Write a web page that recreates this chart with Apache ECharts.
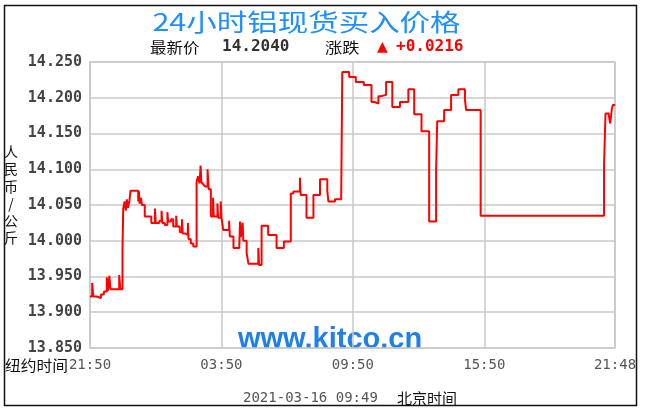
<!DOCTYPE html>
<html>
<head>
<meta charset="utf-8">
<script src="https://cdn.jsdelivr.net/npm/echarts@6/dist/echarts.min.js"></script>
<style>
html,body{margin:0;padding:0;background:#fff;}
#c{width:649px;height:416px;}
</style>
</head>
<body>
<div id="c"></div>
<script>
// Minutes after 21:50 (New York time) at which each price level starts
const minutes = [0,6,9,18,30,38,46,49,53,56,80,83,89,91,95,98,101,104,108,111,132,134,136,140,142,150,168,178,180,190,196,198,205,212,214,222,228,236,238,246,252,254,262,268,270,276,283,292,296,300,303,305,310,315,322,325,331,337,339,349,351,358,360,365,381,383,393,409,411,413,418,420,429,434,461,463,470,488,511,531,550,557,575,577,593,612,630,650,653,671,688,691,710,728,750,771,779,790,796,811,828,849,872,888,908,929,948,951,970,989,1009,1027,1030,1070,1408,1412,1421,1425,1429,1432,1438];
// Aluminium spot bid price (RMB / kg)
const prices = [13.922,13.941,13.922,13.920,13.925,13.929,13.949,13.930,13.951,13.932,13.952,13.932,13.987,14.045,14.055,14.042,14.058,14.046,14.056,14.070,14.055,14.069,14.052,14.060,14.050,14.034,14.025,14.045,14.025,14.028,14.042,14.025,14.022,14.040,14.027,14.030,14.020,14.035,14.020,14.012,14.030,14.010,14.008,14.025,14.002,13.996,13.992,14.083,14.090,14.080,14.105,14.082,14.079,14.076,14.100,14.072,14.034,14.060,14.034,14.052,14.032,14.055,14.033,14.015,14.028,14.006,13.990,13.994,14.027,14.005,14.025,14.000,13.983,13.968,13.990,13.966,14.021,14.008,13.990,13.999,14.066,14.069,14.088,14.064,14.032,14.064,14.086,14.070,14.055,14.058,14.056,14.236,14.229,14.222,14.218,14.194,14.192,14.202,14.204,14.222,14.187,14.194,14.212,14.177,14.153,14.027,14.097,14.167,14.183,14.204,14.212,14.198,14.183,14.035,14.106,14.178,14.175,14.164,14.183,14.190,14.190];
const xTickValues = [0,360,720,1080,1438];
const xTickLabels = ['21:50','03:50','09:50','15:50','21:48'];
const yMin = 13.85, yMax = 14.25, yStep = 0.05;
const titleText = '24小时铝现货买入价格';
const latestLabel = '最新价', latestValue = '14.2040';
const changeLabel = '涨跌', changeValue = '+0.0216';
const updateTime = '2021-03-16 09:49';

const chart = echarts.init(document.getElementById('c'), null, {renderer:'canvas'});
const mono = "'DejaVu Sans Mono', 'Liberation Mono', monospace";
const cjk = "'Noto Sans CJK SC', sans-serif";
const option = {
  backgroundColor: '#fff',
  animation: false,
  grid: {left: 90, top: 62, right: 34, bottom: 68, show: true, borderColor: '#c8c8c8', borderWidth: 1.5, backgroundColor: 'transparent'},
  xAxis: {
    type: 'value', min: 0, max: 1438, interval: 360,
    axisLine: {show: false}, axisTick: {show: false},
    splitLine: {show: true, lineStyle: {color: '#c8c8c8', width: 1.5}},
    axisLabel: {
      customValues: xTickValues,
      formatter: v => xTickLabels[xTickValues.indexOf(v)],
      color: '#555', fontFamily: mono, fontSize: 14, margin: 10
    }
  },
  yAxis: {
    type: 'value', min: yMin, max: yMax, interval: yStep,
    axisLine: {show: false}, axisTick: {show: false},
    splitLine: {show: true, lineStyle: {color: '#c8c8c8', width: 1.5}},
    axisLabel: {formatter: v => v.toFixed(3), color: '#444', fontFamily: mono, fontWeight: 'bold', fontSize: 15, margin: 8}
  },
  graphic: [
    {type: 'rect', shape: {x: 4.5, y: 5.5, width: 632, height: 400}, style: {fill: 'none', stroke: '#111', lineWidth: 1.5}, z: 1},
    {type: 'text', x: 306.5, y: 21.5, scaleX: 1.27, style: {text: titleText, fill: '#1e8fff', font: "24px " + cjk, textAlign: 'center', textVerticalAlign: 'middle'}},
    {type: 'text', x: 150, y: 47, scaleX: 1.1, style: {text: latestLabel, fill: '#111', font: "15px " + cjk, textVerticalAlign: 'middle'}},
    {type: 'text', x: 222, y: 47, style: {text: latestValue, fill: '#333', font: "bold 16px " + mono, textVerticalAlign: 'middle'}},
    {type: 'text', x: 325, y: 47, scaleX: 1.15, style: {text: changeLabel, fill: '#111', font: "15px " + cjk, textVerticalAlign: 'middle'}},
    {type: 'text', x: 377, y: 47, style: {text: '▲', fill: '#ff0000', font: "14px 'DejaVu Sans'", textVerticalAlign: 'middle'}},
    {type: 'text', x: 396, y: 47, style: {text: changeValue, fill: '#ff0000', font: "bold 16px " + mono, textVerticalAlign: 'middle'}},
    {type: 'text', x: 11, y: 143, style: {text: '人\n民\n币\n/\n公\n斤', fill: '#111', font: "14px " + cjk, textAlign: 'center', lineHeight: 17.3}},
    {type: 'text', x: 5, y: 365, scaleX: 1.05, style: {text: '纽约时间', fill: '#111', font: "15px " + cjk, textVerticalAlign: 'middle'}},
    {type: 'text', x: 330, y: 340, z: 0, style: {text: 'www.kitco.cn', fill: '#1e80ea', font: "bold 29px 'Liberation Sans', Arial, sans-serif", textAlign: 'center', textVerticalAlign: 'middle'}},
    {type: 'text', x: 243, y: 398, style: {text: updateTime, fill: '#555', font: "14px " + mono, textVerticalAlign: 'middle'}},
    {type: 'text', x: 397, y: 398, style: {text: '北京时间', fill: '#111', font: "15px " + cjk, textVerticalAlign: 'middle'}}
  ],
  series: [{
    type: 'line', step: 'end', showSymbol: false, silent: true,
    data: minutes.map((m, i) => [m, prices[i]]),
    lineStyle: {color: '#ff0000', width: 2},
    z: 5
  }]
};
chart.setOption(option);
</script>
</body>
</html>
